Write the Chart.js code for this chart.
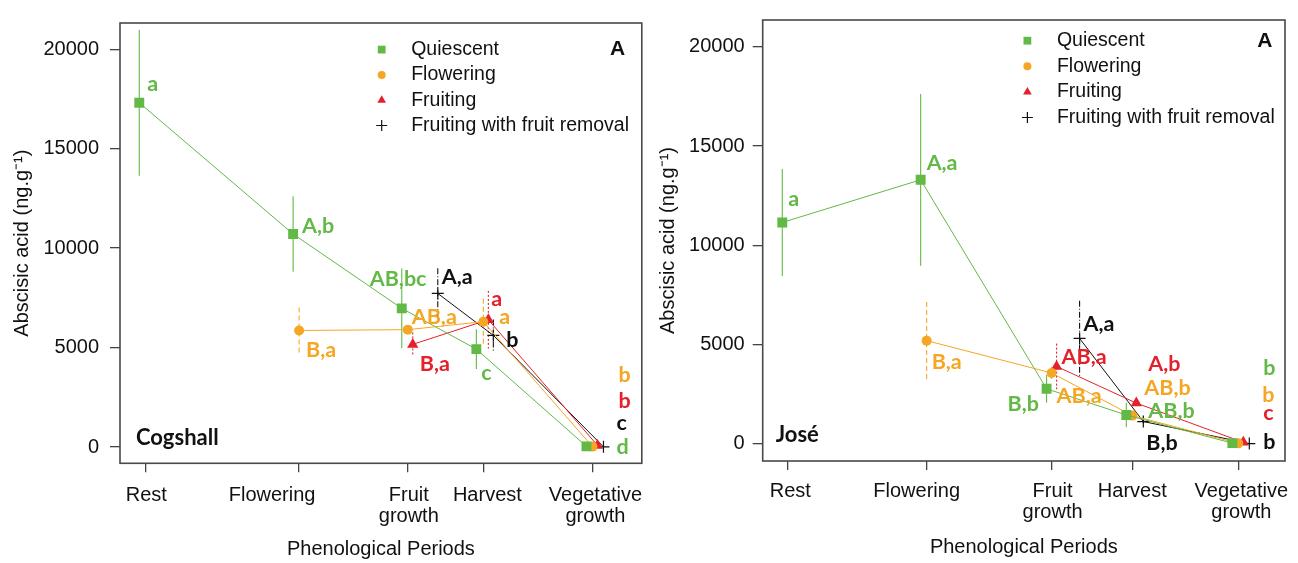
<!DOCTYPE html>
<html>
<head>
<meta charset="utf-8">
<title>Abscisic acid by phenological period</title>
<script src="https://cdn.jsdelivr.net/npm/chart.js@4.4.1/dist/chart.umd.min.js"></script>
<style>
  html, body { margin: 0; padding: 0; background: #fff; }
  .wrap { display: flex; width: 1298px; height: 563px; }
  .panel { position: relative; width: 649px; height: 563px; }
</style>
</head>
<body>
<div class="wrap">
  <div class="panel"><canvas id="cogshall"></canvas></div>
  <div class="panel"><canvas id="jose"></canvas></div>
</div>
<script>
// ---- data ----
const periodLabels = [['Rest'], ['Flowering'], ['Fruit', 'growth'], ['Harvest'], ['Vegetative', 'growth']];
const seriesNames = ['Quiescent', 'Flowering', 'Fruiting', 'Fruiting with fruit removal'];
const yTicks = [0, 5000, 10000, 15000, 20000];

// Cogshall : position of the periods on the time axis, mean and sd per status
const cogPeriodX = [0, 34.4, 58.7, 75.6, 100];
const cogQuiescent = [17310, 10710, 6970, 4920, 30];
const cogQuiescentSd = [3670, 1900, 2000, 1000, 0];
const cogFlowering = [null, 5860, 5900, 6300, 20];
const cogFloweringSd = [null, 1150, 200, 1150, 0];
const cogFruiting = [null, null, 5160, 6400, 80];
const cogFruitingSd = [null, null, 600, 1450, 0];
const cogRemoval = [null, null, 7720, 5610, 10];
const cogRemovalSd = [null, null, 1270, 800, 0];
const cogLetters = [
  ['a', 'A,b', 'AB,bc', 'c', 'd'],
  [null, 'B,a', 'AB,a', 'a', 'b'],
  [null, null, 'B,a', 'a', 'b'],
  [null, null, 'A,a', 'b', 'c']
];

// José
const josePeriodX = [0, 30.9, 58.6, 76.5, 100];
const joseQuiescent = [11150, 13300, 2760, 1440, 20];
const joseQuiescentSd = [2700, 4330, 700, 620, 0];
const joseFlowering = [null, 5190, 3560, 1410, 10];
const joseFloweringSd = [null, 1950, 300, 200, 0];
const joseFruiting = [null, null, 3890, 2040, 60];
const joseFruitingSd = [null, null, 1150, 200, 0];
const joseRemoval = [null, null, 5300, 1110, 0];
const joseRemovalSd = [null, null, 1900, 200, 0];
const joseLetters = [
  ['a', 'A,a', 'B,b', 'AB,b', 'b'],
  [null, 'B,a', 'AB,a', 'AB,b', 'b'],
  [null, null, 'AB,a', 'A,b', 'c'],
  [null, null, 'A,a', 'B,b', 'b']
];

// ---- styles ----
const colors = ['#62b946', '#f5a623', '#e4202a', '#111111'];
const pointStyles = ['rect', 'circle', 'triangle', 'cross'];
const pointRadii = [7, 5, 6.5, 6];
const legendRadii = [5.5, 4, 5, 5.5];
const barDashes = [[], [5, 3], [2, 2], [6, 2, 1, 2]];
const tickFont = '20px "Liberation Sans", Arial, sans-serif';
const letterFont = 'bold 21.5px Lato, "Open Sans", sans-serif';

function drawMarker(ctx, style, x, y, r, color) {
  ctx.save();
  ctx.fillStyle = color;
  ctx.strokeStyle = color;
  ctx.setLineDash([]);
  ctx.beginPath();
  if (style === 'rect') {
    const s = r * Math.SQRT1_2;
    ctx.rect(x - s, y - s, 2 * s, 2 * s);
    ctx.fill();
  } else if (style === 'circle') {
    ctx.arc(x, y, r, 0, Math.PI * 2);
    ctx.fill();
  } else if (style === 'triangle') {
    ctx.moveTo(x, y - r);
    ctx.lineTo(x + r * 0.866, y + r * 0.5);
    ctx.lineTo(x - r * 0.866, y + r * 0.5);
    ctx.closePath();
    ctx.fill();
  } else {
    ctx.lineWidth = 1.2;
    ctx.moveTo(x - r, y); ctx.lineTo(x + r, y);
    ctx.moveTo(x, y - r); ctx.lineTo(x, y + r);
    ctx.stroke();
  }
  ctx.restore();
}

// error bars, letters, frame, legend and period labels
const decorPlugin = {
  id: 'decor',
  afterDatasetsUpdate(chart) {
    const p = chart.options.plugins.decor;
    chart.data.datasets.forEach((ds, i) => {
      chart.getDatasetMeta(i).data.forEach((pt, j) => { pt.x += p.dodge[i][j] || 0; });
    });
  },
  beforeDatasetsDraw(chart) {
    const p = chart.options.plugins.decor;
    const { ctx, chartArea: a } = chart;
    const ys = chart.scales.y;
    ctx.save();
    ctx.beginPath();
    ctx.rect(a.left, a.top, a.right - a.left, a.bottom - a.top);
    ctx.clip();
    chart.data.datasets.forEach((ds, i) => {
      const meta = chart.getDatasetMeta(i);
      p.sd[i].forEach((sd, j) => {
        const v = p.values[i][j];
        if (v == null || !sd) return;
        const x = meta.data[j].x;
        ctx.strokeStyle = colors[i];
        ctx.lineWidth = 1.1;
        ctx.setLineDash(barDashes[i]);
        ctx.beginPath();
        ctx.moveTo(x, ys.getPixelForValue(v + sd));
        ctx.lineTo(x, ys.getPixelForValue(v - sd));
        ctx.stroke();
      });
    });
    ctx.restore();
  },
  afterDatasetsDraw(chart) {
    const p = chart.options.plugins.decor;
    const ctx = chart.ctx;
    ctx.save();
    ctx.font = letterFont;
    ctx.textAlign = 'left';
    ctx.textBaseline = 'alphabetic';
    p.letters.forEach((row, i) => {
      const meta = chart.getDatasetMeta(i);
      row.forEach((t, j) => {
        if (!t) return;
        const off = p.letterOffsets[i][j];
        ctx.fillStyle = colors[i];
        ctx.fillText(t, meta.data[j].x + off[0], meta.data[j].y + off[1]);
      });
    });
    ctx.restore();
  },
  afterDraw(chart) {
    const p = chart.options.plugins.decor;
    const { ctx, chartArea: a } = chart;
    const xs = chart.scales.x;
    ctx.save();
    // box
    ctx.strokeStyle = '#484848';
    ctx.lineWidth = 1.6;
    ctx.strokeRect(a.left, a.top, a.right - a.left, a.bottom - a.top);

    // period labels
    ctx.fillStyle = '#111';
    ctx.font = tickFont;
    ctx.textAlign = 'center';
    ctx.textBaseline = 'middle';
    periodLabels.forEach((lines, k) => {
      const x = xs.getPixelForValue(p.periodX[k]) + p.labelShift[k];
      lines.forEach((t, li) => ctx.fillText(t, x, a.bottom + p.labelTop + li * 21.5));
    });

    // legend
    ctx.font = '19.5px "Liberation Sans", Arial, sans-serif';
    ctx.textAlign = 'left';
    seriesNames.forEach((name, i) => {
      const y = a.top + p.legendTop + i * p.legendStep;
      const mx = a.left + p.legendLeft;
      drawMarker(ctx, pointStyles[i], mx, y, legendRadii[i], colors[i]);
      ctx.fillStyle = '#111';
      ctx.fillText(name, mx + 29.5, y);
    });

    // panel tag and cultivar name
    ctx.font = 'bold 21px "Liberation Sans", Arial, sans-serif';
    ctx.textAlign = 'right';
    ctx.textBaseline = 'alphabetic';
    ctx.fillText('A', a.right - p.tagRight, a.top + p.tagTop);
    ctx.font = 'bold 22px Lato, "Open Sans", sans-serif';
    ctx.textAlign = 'left';
    ctx.fillText(p.name, a.left + p.nameLeft, a.bottom - p.nameBottom);
    ctx.restore();
  }
};

function buildPanel(id, d) {
  const datasets = seriesNames.map((name, i) => ({
    label: name,
    data: d.values[i].map((v, j) => ({ x: d.periodX[j], y: v })),
    borderColor: colors[i],
    backgroundColor: colors[i],
    borderWidth: 1,
    pointStyle: pointStyles[i],
    pointRadius: pointRadii[i],
    pointBackgroundColor: colors[i],
    pointBorderColor: colors[i],
    pointBorderWidth: i === 3 ? 1.2 : 0,
    tension: 0
  }));

  return new Chart(document.getElementById(id), {
    type: 'line',
    data: { datasets },
    plugins: [decorPlugin],
    options: {
      responsive: true,
      maintainAspectRatio: false,
      animation: false,
      layout: { padding: { top: d.padTop, right: d.padRight, left: 0, bottom: 0 } },
      plugins: {
        legend: { display: false },
        tooltip: { enabled: false },
        decor: d
      },
      scales: {
        x: {
          type: 'linear',
          min: d.xMin,
          max: d.xMax,
          afterBuildTicks: s => { s.ticks = d.periodX.map(v => ({ value: v })); },
          ticks: { display: false },
          grid: { drawOnChartArea: false, tickLength: 9, color: '#444', lineWidth: 1.3 },
          border: { display: false },
          title: {
            display: true,
            text: 'Phenological Periods',
            color: '#111',
            font: { family: '"Liberation Sans", Arial, sans-serif', size: 20 },
            padding: { top: 0, bottom: d.xTitlePad }
          },
          afterFit: s => { s.height = d.xAxisHeight; }
        },
        y: {
          min: d.yMin,
          max: d.yMax,
          afterBuildTicks: s => { s.ticks = yTicks.map(v => ({ value: v })); },
          ticks: {
            color: '#111',
            padding: d.yTickPad,
            font: { family: '"Liberation Sans", Arial, sans-serif', size: 20 },
            callback: v => String(v)
          },
          grid: { drawOnChartArea: false, tickLength: 10, color: '#444', lineWidth: 1.3 },
          border: { display: false },
          title: {
            display: true,
            text: 'Abscisic acid (ng.g\u207B\u00B9)',
            color: '#111',
            font: { family: '"Liberation Sans", Arial, sans-serif', size: 20 },
            padding: { top: d.yTitlePad, bottom: 0 }
          },
          afterFit: s => { s.width = d.yAxisWidth; }
        }
      }
    }
  });
}

buildPanel('cogshall', {
  name: 'Cogshall',
  periodX: cogPeriodX,
  values: [cogQuiescent, cogFlowering, cogFruiting, cogRemoval],
  sd: [cogQuiescentSd, cogFloweringSd, cogFruitingSd, cogRemovalSd],
  letters: cogLetters,
  letterOffsets: [
    [[8, -12], [9, -1], [-32, -22], [5, 31], [30, 8]],
    [null, [7, 27], [4, -6], [16, 2], [26, -65]],
    [null, null, [7, 27], [3, -14], [21, -37]],
    [null, null, [4, -9], [13, 12], [13, -17]]
  ],
  dodge: [[-6, -6, -6, -7, -6], [0, 0, 0, 0, 0], [5, 5, 5, 5, 5], [11, 11, 30, 10, 11]],
  xMin: -5.65, xMax: 111.03,
  yMin: -820, yMax: 21320,
  padTop: 15.7, padRight: 6.3,
  xAxisHeight: 99.7, yAxisWidth: 120,
  xTitlePad: 2, yTitlePad: 10, yTickPad: 11,
  labelShift: [1, -27, 1, 4, 3], labelTop: 32,
  legendLeft: 261.7, legendTop: 26.6, legendStep: 25.3,
  tagRight: 16.7, tagTop: 32,
  nameLeft: 16, nameBottom: 18.3
});

buildPanel('jose', {
  name: 'José',
  periodX: josePeriodX,
  values: [joseQuiescent, joseFlowering, joseFruiting, joseRemoval],
  sd: [joseQuiescentSd, joseFloweringSd, joseFruitingSd, joseRemovalSd],
  letters: joseLetters,
  letterOffsets: [
    [[6, -16], [6, -10], [-39, 22], [22, 3], [31, -68]],
    [null, [5, 28], [5, 30], [12, -21], [24, -41]],
    [null, null, [5, -2], [12, -32], [20, -22]],
    [null, null, [4, -7], [3, 28], [14, 5]]
  ],
  dodge: [[-5, -6, -5, -6, -6], [0, 0, 0, 0, 0], [5, 5, 5, 4, 5], [11, 11, 28, 11, 11]],
  xMin: -5.45, xMax: 110.35,
  yMin: -880, yMax: 21360,
  padTop: 13.3, padRight: 13,
  xAxisHeight: 102, yAxisWidth: 113.7,
  xTitlePad: 4, yTitlePad: 7, yTickPad: 8,
  labelShift: [3, -10, 1, 0, 3], labelTop: 30,
  legendLeft: 264.7, legendTop: 20.7, legendStep: 25.6,
  tagRight: 12.7, tagTop: 26.7,
  nameLeft: 13, nameBottom: 19.3
});
</script>
</body>
</html>
